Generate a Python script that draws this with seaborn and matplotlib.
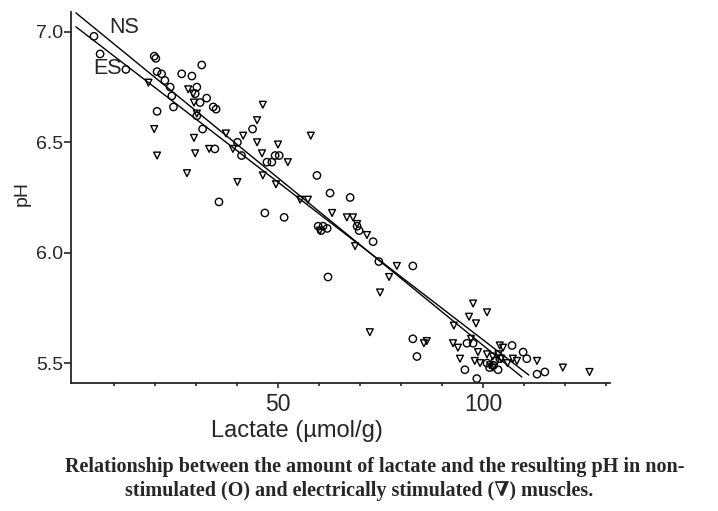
import numpy as np
import pandas as pd
import matplotlib
matplotlib.use("Agg")
import matplotlib.pyplot as plt
import seaborn as sns

# non-stimulated muscles (circles)
ns_lactate = [5.1, 6.6, 12.9, 19.8, 20.2, 20.5, 21.6, 22.4, 20.5, 23.7, 24.1, 24.5, 26.5,
              29.0, 30.2, 29.8, 31.4, 31.0, 32.6, 30.2, 31.6, 34.2, 34.9, 34.6, 40.1, 43.8,
              41.1, 47.3, 48.5, 49.3, 50.3, 59.5, 62.7, 67.6, 35.6, 46.8, 51.5, 59.8, 61.0,
              62.0, 60.5, 62.2, 69.3, 69.8, 73.2, 74.6, 82.9, 82.9, 83.9, 96.1, 97.6, 95.6,
              107.1, 109.8, 110.7, 104.1, 101.0, 103.7, 113.2, 115.1, 98.5, 102.9, 101.6, 102.6]
ns_ph = [6.98, 6.90, 6.83, 6.89, 6.88, 6.82, 6.81, 6.78, 6.64, 6.75, 6.71, 6.66, 6.81,
         6.80, 6.75, 6.72, 6.85, 6.68, 6.70, 6.62, 6.56, 6.66, 6.65, 6.47, 6.50, 6.56,
         6.44, 6.41, 6.41, 6.44, 6.44, 6.35, 6.27, 6.25, 6.23, 6.18, 6.16, 6.12, 6.12,
         6.11, 6.10, 5.89, 6.12, 6.10, 6.05, 5.96, 5.94, 5.61, 5.53, 5.59, 5.59, 5.47,
         5.58, 5.55, 5.52, 5.52, 5.50, 5.47, 5.45, 5.46, 5.43, 5.51, 5.48, 5.49]

# electrically stimulated muscles (triangles)
es_lactate = [18.4, 28.1, 29.3, 29.5, 19.8, 20.5, 29.5, 29.8, 33.2, 27.8, 30.2, 37.3, 39.0,
              41.5, 44.9, 46.3, 44.9, 50.0, 46.1, 52.4, 58.0, 40.1, 46.3, 49.5, 55.4, 57.3,
              63.2, 66.8, 68.3, 68.8, 60.2, 69.3, 71.7, 79.0, 77.1, 74.9, 72.4, 86.3, 85.6,
              97.6, 101.0, 96.6, 98.3, 92.9, 92.7, 93.9, 94.4, 97.1, 98.8, 98.0, 99.3, 104.1,
              104.9, 103.8, 104.5, 101.0, 102.4, 101.7, 102.4, 106.0, 107.3, 108.3, 113.2,
              119.5, 126.0]
es_ph = [6.77, 6.74, 6.72, 6.68, 6.56, 6.44, 6.52, 6.45, 6.47, 6.36, 6.63, 6.54, 6.47,
         6.53, 6.60, 6.67, 6.50, 6.49, 6.45, 6.41, 6.53, 6.32, 6.35, 6.31, 6.24, 6.24,
         6.18, 6.16, 6.16, 6.03, 6.10, 6.13, 6.08, 5.94, 5.89, 5.82, 5.64, 5.60, 5.59,
         5.77, 5.73, 5.71, 5.68, 5.67, 5.59, 5.57, 5.52, 5.61, 5.55, 5.51, 5.50, 5.58,
         5.57, 5.54, 5.52, 5.54, 5.53, 5.49, 5.48, 5.50, 5.52, 5.51, 5.51,
         5.48, 5.46]

# regression lines, end points
ns_line_x = [0.7, 109.5]
ns_line_y = [7.086, 5.437]
es_line_x = [0.7, 111.2]
es_line_y = [7.023, 5.446]

ns = pd.DataFrame({"lactate": ns_lactate, "pH": ns_ph})
es = pd.DataFrame({"lactate": es_lactate, "pH": es_ph})

sns.set_style("ticks")
plt.rcParams["font.family"] = ["Liberation Sans", "DejaVu Sans"]

fig = plt.figure(figsize=(7.18, 5.11), dpi=100)
ax = fig.add_axes([71 / 718, 128 / 511, 539 / 718, 371 / 511])

sns.scatterplot(data=ns, x="lactate", y="pH", marker="o", s=28, facecolor="none",
                edgecolor="black", linewidth=1.0, ax=ax)
sns.scatterplot(data=es, x="lactate", y="pH", marker="v", s=24, facecolor="none",
                edgecolor="black", linewidth=1.0, ax=ax)
sns.lineplot(x=ns_line_x, y=ns_line_y, color="black", linewidth=1.0, ax=ax)
sns.lineplot(x=es_line_x, y=es_line_y, color="black", linewidth=1.0, ax=ax)

ax.text(12.4, 7.022, "NS", fontsize=15.5, ha="center", va="center")
ax.text(8.3, 6.835, "ES", fontsize=15.5, ha="center", va="center")

ax.set_xlim(-0.5, 131)
ax.set_ylim(5.41, 7.09)
ax.set_xticks([50, 100])
ax.set_xticks([10, 20, 30, 40, 60, 70, 80, 90, 110, 120, 130], minor=True)
ax.set_yticks([5.5, 6.0, 6.5, 7.0])
ax.set_yticklabels(["5.5", "6.0", "6.5", "7.0"])
ax.tick_params(axis="x", which="major", length=3.5, width=1.2, labelsize=16.5, pad=4)
ax.tick_params(axis="x", which="minor", length=2.5, width=1.2)
ax.tick_params(axis="y", length=5, width=1.2, labelsize=14, pad=0.5)

ax.set_xlabel("Lactate (µmol/g)", fontsize=17)
ax.xaxis.set_label_coords(0.42, -0.1)
ax.set_ylabel("pH", fontsize=14)
ax.yaxis.set_label_coords(-0.075, 0.51)

sns.despine(ax=ax)
for side in ["left", "bottom"]:
    ax.spines[side].set_linewidth(1.3)

cap_font = dict(family=["Liberation Serif", "DejaVu Serif"], fontweight="bold", fontsize=14.5)
fig.text(375 / 718, 1 - 467 / 511,
         "Relationship between the amount of lactate and the resulting pH in non-",
         ha="center", va="center", **cap_font)
fig.text(359 / 718, 1 - 491 / 511,
         "stimulated (O) and electrically stimulated (\u2207) muscles.",
         ha="center", va="center", **cap_font)

fig.savefig("out.png", dpi=100, facecolor="white")
